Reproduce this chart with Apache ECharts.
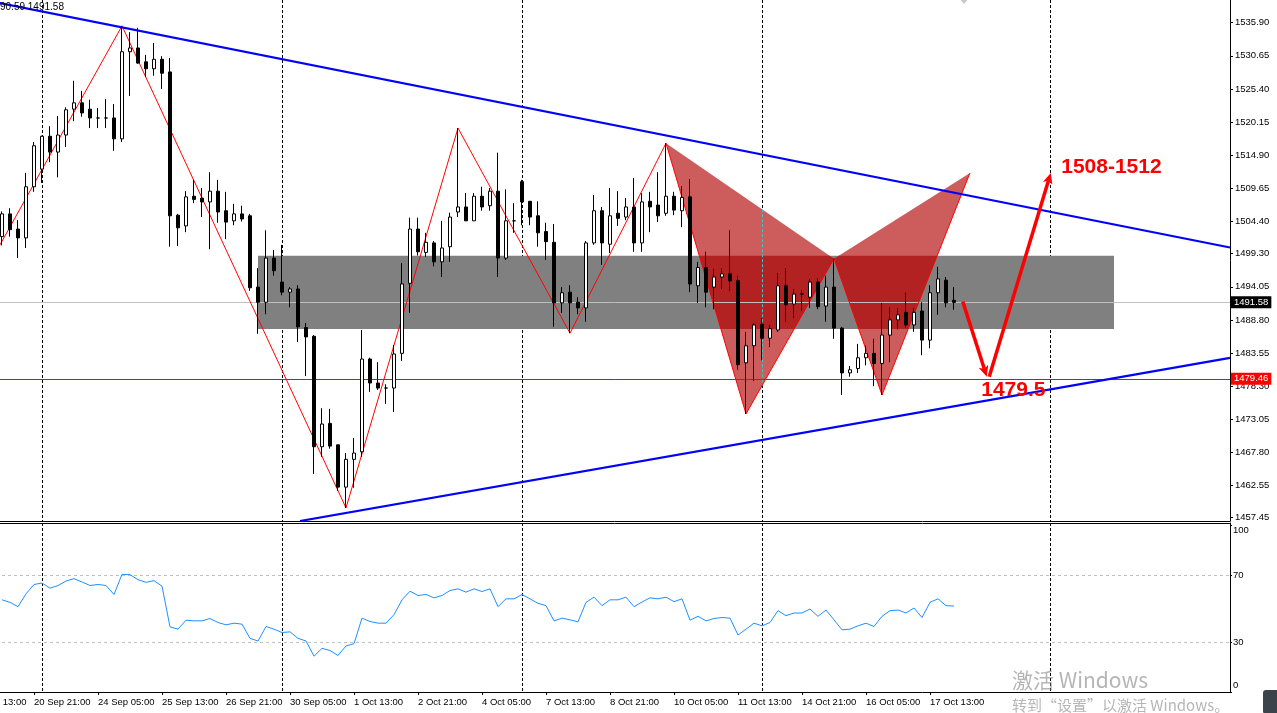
<!DOCTYPE html>
<html>
<head>
<meta charset="utf-8">
<title>XAUUSD H4</title>
<script src="https://cdn.jsdelivr.net/npm/echarts@6/dist/echarts.min.js"></script>
<style>
html,body{margin:0;padding:0;background:#ffffff;overflow:hidden;}
#chart{width:1277px;height:713px;}
</style>
</head>
<body>
<div id="chart"></div>
<script>
// ================= DATA =================
// candles: [open, high, low, close], H4 bars from 20 Sep 05:00
const candles = [
[1502.0,1506.0,1500.6,1505.6],[1505.6,1506.5,1502.0,1503.1],[1503.2,1504.6,1498.6,1501.8],[1501.8,1512.1,1500.2,1509.9],
[1509.9,1517.0,1509.1,1516.4],[1512.7,1518.0,1510.5,1517.9],[1517.9,1519.5,1513.8,1515.4],[1515.4,1521.1,1511.4,1518.1],
[1518.1,1522.5,1516.2,1522.1],[1522.2,1526.7,1520.3,1523.2],[1523.2,1525.1,1521.0,1521.6],[1522.2,1523.7,1519.2,1520.8],
[1520.8,1522.4,1519.2,1520.8],[1520.8,1523.8,1519.2,1520.8],[1520.8,1523.0,1515.6,1517.5],[1517.5,1535.4,1517.0,1531.3],
[1531.3,1534.4,1524.3,1531.9],[1531.9,1535.1,1529.4,1529.5],[1529.7,1530.8,1527.3,1528.6],[1528.6,1532.7,1527.5,1530.1],
[1530.1,1530.6,1525.4,1527.9],[1528.1,1530.3,1500.4,1505.3],[1505.4,1505.6,1500.5,1503.4],[1503.7,1509.2,1502.7,1508.3],
[1508.4,1511.0,1507.3,1507.9],[1508.1,1509.7,1505.1,1507.5],[1507.5,1512.2,1500.0,1509.2],[1509.2,1511.0,1504.2,1505.9],
[1506.1,1509.1,1501.6,1504.3],[1504.5,1507.2,1503.8,1505.6],[1505.6,1506.9,1504.4,1504.8],[1505.3,1505.6,1493.4,1493.9],
[1494.0,1497.0,1486.6,1491.6],[1491.6,1503.0,1489.7,1498.6],[1498.6,1499.9,1495.8,1496.6],[1494.8,1500.7,1492.7,1493.2],
[1493.2,1494.0,1490.8,1493.7],[1493.7,1494.3,1485.3,1487.7],[1487.6,1488.3,1479.9,1486.1],[1486.2,1486.4,1464.4,1468.7],
[1468.7,1474.8,1467.1,1472.3],[1472.4,1474.7,1468.4,1468.8],[1469.0,1469.0,1461.7,1462.3],[1462.3,1467.7,1459.0,1466.7],
[1466.7,1470.1,1462.2,1467.7],[1467.9,1487.2,1467.1,1482.6],[1482.6,1482.8,1477.4,1478.8],[1478.8,1482.1,1477.7,1478.0],
[1478.0,1478.6,1475.5,1478.0],[1478.0,1484.8,1474.2,1483.4],[1483.5,1497.8,1482.3,1494.5],[1494.6,1505.0,1489.9,1503.2],
[1503.2,1505.0,1499.0,1499.6],[1499.5,1502.6,1498.8,1501.1],[1501.0,1501.3,1497.3,1498.0],[1498.0,1504.5,1495.6,1500.2],
[1500.4,1505.8,1498.0,1505.1],[1505.9,1519.2,1505.1,1506.7],[1506.7,1508.9,1504.5,1504.5],[1504.5,1508.9,1504.5,1508.4],
[1508.4,1509.9,1506.1,1506.7],[1506.9,1509.7,1506.1,1509.2],[1509.2,1515.3,1495.6,1498.6],[1498.6,1509.5,1498.3,1504.5],
[1504.5,1507.3,1502.6,1504.5],[1510.7,1511.0,1503.8,1507.5],[1507.6,1507.6,1503.8,1505.1],[1505.3,1507.6,1500.4,1502.6],
[1502.8,1504.2,1498.3,1501.2],[1501.1,1504.0,1487.7,1491.5],[1491.5,1494.0,1489.9,1493.1],[1493.2,1494.3,1486.7,1491.5],
[1491.6,1492.4,1489.7,1490.7],[1490.7,1501.3,1488.5,1501.0],[1501.0,1508.6,1500.7,1506.1],[1506.1,1506.7,1497.5,1501.0],
[1500.8,1509.7,1499.4,1505.3],[1505.7,1509.2,1503.7,1504.9],[1505.1,1508.1,1504.6,1506.7],[1506.7,1511.3,1499.6,1501.0],
[1501.0,1508.9,1499.6,1507.5],[1507.6,1509.1,1502.7,1506.7],[1507.0,1512.2,1504.3,1505.3],[1505.7,1516.8,1505.3,1508.4],
[1508.4,1509.1,1505.4,1506.2],[1506.1,1510.0,1503.5,1508.2],[1508.3,1511.1,1493.2,1494.5],[1494.2,1498.0,1491.5,1497.1],
[1497.1,1499.6,1490.8,1493.2],[1494.0,1496.9,1490.5,1495.6],[1495.6,1497.0,1493.7,1496.1],[1496.1,1503.0,1493.4,1495.0],
[1495.0,1495.8,1480.9,1481.7],[1482.0,1486.9,1473.9,1484.7],[1484.7,1488.3,1479.1,1488.0],[1488.1,1489.1,1482.4,1485.9],
[1485.9,1488.0,1484.5,1487.4],[1487.2,1496.2,1486.9,1494.2],[1494.2,1497.0,1488.5,1491.2],[1491.3,1493.7,1489.1,1492.9],
[1492.9,1493.5,1490.2,1492.9],[1492.4,1495.3,1490.7,1494.8],[1494.8,1495.4,1490.5,1490.9],[1491.0,1495.8,1488.5,1494.0],
[1494.0,1498.5,1485.8,1487.5],[1487.5,1487.7,1476.9,1480.4],[1480.4,1481.5,1479.8,1480.9],[1481.1,1485.0,1480.4,1482.8],
[1482.8,1484.7,1481.6,1483.5],[1483.5,1485.8,1478.3,1481.9],[1481.9,1491.5,1476.9,1486.4],[1486.4,1490.8,1482.1,1488.8],
[1488.8,1490.7,1487.3,1489.6],[1490.0,1493.1,1487.5,1488.0],[1488.0,1490.7,1486.9,1490.0],[1490.2,1491.6,1483.2,1485.6],
[1485.6,1494.3,1484.3,1493.1],[1493.1,1497.2,1489.6,1495.3],[1495.1,1495.6,1490.8,1491.5],[1491.9,1494.0,1490.4,1491.58]
];
const rsiValues = [
55.3,53.8,51.2,58.9,64.5,65.4,62.3,63.9,66.6,68.0,
66.0,63.9,64.5,63.9,58.5,70.6,70.4,67.4,65.8,66.8,
63.5,39.1,37.7,43.1,42.7,42.7,44.1,41.7,40.3,41.3,
40.7,32.2,30.6,39.3,37.7,35.7,36.1,32.2,30.6,21.5,
26.2,24.9,21.9,27.6,29.0,44.3,42.3,41.3,41.3,46.4,
55.3,60.5,57.9,58.5,56.5,57.9,60.9,61.9,59.9,61.9,
60.3,61.9,51.2,55.9,55.9,58.5,55.9,53.2,51.8,42.7,
44.3,43.3,42.1,53.8,56.9,51.8,55.3,55.3,56.9,51.2,
54.0,56.5,55.9,56.9,54.2,55.9,43.1,45.4,42.7,44.1,
44.7,44.3,34.2,37.7,41.3,39.7,41.7,48.8,45.8,47.4,
47.4,49.8,45.4,49.2,43.3,37.3,37.7,39.7,41.3,39.3,
45.4,48.8,49.2,47.4,50.4,44.7,53.8,55.9,51.8,51.6
];
const timeLabels = ['19 Sep 13:00','20 Sep 21:00','24 Sep 05:00','25 Sep 13:00','26 Sep 21:00','30 Sep 05:00',
  '1 Oct 13:00','2 Oct 21:00','4 Oct 05:00','7 Oct 13:00','8 Oct 21:00','10 Oct 05:00','11 Oct 13:00',
  '14 Oct 21:00','16 Oct 05:00','17 Oct 13:00'];
const priceTicks = [1457.45,1462.55,1467.80,1473.05,1478.30,1483.55,1488.80,1494.05,1499.30,1504.40,
  1509.65,1514.90,1520.15,1525.40,1530.65,1535.90];
const rsiTicks = [0,30,70,100];
const rsiLevels = [70,30];
const weekSeparators = [5,35,65,95,131];                 // bar index
const upperTrend = [[-0.5,1539.07],[153.5,1500.27]];     // [bar, price]
const lowerTrend = [[37.25,1456.93],[153.5,1482.78]];
const zigzag = [[-0.25,1500.7],[15,1535.4],[43,1459.0],[57,1519.2],[71,1486.7],[83,1516.8],
  [93,1473.9],[104,1498.5],[110,1476.9],[121,1512.1]];
const butterfly = [[83,1516.8],[93,1473.9],[104,1498.5],[110,1476.9],[121,1512.1]]; // X A B C D
const zone = [[32,1498.98],[139,1487.36]];
const arrows = [[120.1,1491.7,123.1,1479.8],[123.4,1479.8,131.1,1512.1]];
const targetTexts = ['1508-1512','1479.5'];
const targetAnchors = [[132.4,1513.0],[122.4,1477.7]];
const topMarker = [[119.75,1539.6],[120.75,1539.6],[120.25,1538.85]];
const bidPrice = 1491.58;
const levelPrice = 1479.46;
const headerText = '90.59 1491.58';

// ================= LAYOUT / STYLE =================
const FONT = '"Liberation Sans", Arial, sans-serif';
const BARS_BEFORE = 4;
const SLOT_COUNT = 158;
const xMin = -BARS_BEFORE - 0.5, xMax = SLOT_COUNT - BARS_BEFORE - 0.5;
const priceMin = 1456.93, priceMax = 1539.5;
const rsiMin = 0, rsiMax = 101.4;
const labelEvery = 8;
const categories = Array.from({length: SLOT_COUNT}, (_, k) => String(k - BARS_BEFORE));
const showLabel = (k) => k % labelEvery === 0 && (k / labelEvery) < timeLabels.length;

const candleData = candles.map((d, i) => [i + BARS_BEFORE, d[0], d[3], d[2], d[1]]);
const rsiData = rsiValues.map((v, i) => [i + BARS_BEFORE, v]);
const triangles = [[butterfly[0], butterfly[1], butterfly[2]], [butterfly[2], butterfly[3], butterfly[4]]];

function clipToRect(poly, x0, y0, x1, y1) {
  const edges = [
    [p => p[0] >= x0, (a, b) => [x0, a[1] + (x0 - a[0]) / (b[0] - a[0]) * (b[1] - a[1])]],
    [p => p[0] <= x1, (a, b) => [x1, a[1] + (x1 - a[0]) / (b[0] - a[0]) * (b[1] - a[1])]],
    [p => p[1] >= y0, (a, b) => [a[0] + (y0 - a[1]) / (b[1] - a[1]) * (b[0] - a[0]), y0]],
    [p => p[1] <= y1, (a, b) => [a[0] + (y1 - a[1]) / (b[1] - a[1]) * (b[0] - a[0]), y1]]
  ];
  let out = poly;
  for (const [inside, inter] of edges) {
    const inp = out; out = [];
    for (let i = 0; i < inp.length; i++) {
      const cur = inp[i], prev = inp[(i + inp.length - 1) % inp.length];
      if (inside(cur)) { if (!inside(prev)) out.push(inter(prev, cur)); out.push(cur); }
      else if (inside(prev)) out.push(inter(prev, cur));
    }
    if (!out.length) break;
  }
  return out;
}

function weekLineRenderer(params, api) {
  const x = Math.round(api.coord([api.value(0), api.value(1)])[0]) + 0.5;
  const cs = params.coordSys;
  return {type: 'line', shape: {x1: x, y1: cs.y, x2: x, y2: cs.y + cs.height},
    style: {stroke: '#000000', lineWidth: 1, lineDash: [3, 2]}};
}

const chart = echarts.init(document.getElementById('chart'), null, {renderer: 'canvas'});
const option = {
  animation: false,
  backgroundColor: '#ffffff',
  textStyle: {fontFamily: FONT},
  grid: [
    {left: -34, top: 0, width: 1264, height: 521, outerBoundsMode: 'none', containLabel: false},
    {left: -34, top: 523, width: 1264, height: 169, outerBoundsMode: 'none', containLabel: false}
  ],
  xAxis: [
    {type: 'category', gridIndex: 0, data: categories, boundaryGap: true, position: 'bottom',
      axisLine: {show: true, onZero: false, lineStyle: {color: '#000', width: 1}},
      axisTick: {show: false}, axisLabel: {show: false}, splitLine: {show: false}},
    {type: 'value', gridIndex: 0, min: xMin, max: xMax, show: false},
    {type: 'category', gridIndex: 1, data: categories, boundaryGap: true, position: 'bottom',
      axisLine: {show: true, onZero: false, lineStyle: {color: '#000', width: 1}},
      axisTick: {show: true, interval: (k) => showLabel(k), alignWithLabel: true, length: 3, lineStyle: {color: '#000'}},
      axisLabel: {show: true, interval: (k) => showLabel(k), formatter: (v, k) => timeLabels[k / labelEvery] || '',
        align: 'left', color: '#000', fontSize: 9.5, fontFamily: FONT, margin: 5, hideOverlap: false},
      splitLine: {show: false}},
    {type: 'value', gridIndex: 1, min: xMin, max: xMax, position: 'top',
      axisLine: {show: true, onZero: false, lineStyle: {color: '#000', width: 1}},
      axisTick: {show: false}, axisLabel: {show: false}, splitLine: {show: false}}
  ],
  yAxis: [
    {type: 'value', gridIndex: 0, position: 'right', min: priceMin, max: priceMax,
      axisLine: {show: true, onZero: false, lineStyle: {color: '#000', width: 1}},
      axisTick: {show: true, length: 3, customValues: priceTicks, lineStyle: {color: '#000'}},
      axisLabel: {show: true, customValues: priceTicks, formatter: (v) => v.toFixed(2), color: '#000',
        fontSize: 9.5, fontFamily: FONT, margin: 5},
      splitLine: {show: false}},
    {type: 'value', gridIndex: 1, position: 'right', min: rsiMin, max: rsiMax,
      axisLine: {show: true, onZero: false, lineStyle: {color: '#000', width: 1}},
      axisTick: {show: true, length: 2, customValues: rsiTicks, lineStyle: {color: '#000'}},
      axisLabel: {show: true, customValues: rsiTicks, color: '#000', fontSize: 9.5, fontFamily: FONT, margin: 3,
        formatter: (v) => v === 100 ? '{t|100}' : (v === 0 ? '{b|0}' : String(v)),
        rich: {t: {fontSize: 9.5, fontFamily: FONT, color: '#000', padding: [10, 0, 0, 0]},
               b: {fontSize: 9.5, fontFamily: FONT, color: '#000', padding: [0, 0, 14, 0]}}},
      splitLine: {show: false}}
  ],
  series: [
    {type: 'custom', xAxisIndex: 1, yAxisIndex: 0, z: 1, silent: true,
      data: weekSeparators.map(w => [w, priceMin]), renderItem: weekLineRenderer},
    {type: 'custom', xAxisIndex: 3, yAxisIndex: 1, z: 1, silent: true,
      data: weekSeparators.map(w => [w, 0]), renderItem: weekLineRenderer},
    {type: 'custom', xAxisIndex: 1, yAxisIndex: 0, z: 2, silent: true, clip: true,
      data: [[zone[0][0], zone[0][1], zone[1][0], zone[1][1]]],
      renderItem: (p, api) => {
        const a = api.coord([api.value(0), api.value(1)]), b = api.coord([api.value(2), api.value(3)]);
        return {type: 'rect', shape: {x: Math.min(a[0], b[0]), y: Math.min(a[1], b[1]),
          width: Math.abs(b[0] - a[0]), height: Math.abs(b[1] - a[1])}, style: {fill: '#808080'}};
      }},
    {type: 'custom', xAxisIndex: 1, yAxisIndex: 0, z: 3, silent: true,
      data: triangles.map(t => [t[0][0], t[0][1]]),
      renderItem: (p, api) => {
        const pts = triangles[p.dataIndex].map(q => api.coord(q));
        const a = api.coord(zone[0]), b = api.coord(zone[1]);
        const inner = clipToRect(pts, Math.min(a[0], b[0]), Math.min(a[1], b[1]), Math.max(a[0], b[0]), Math.max(a[1], b[1]));
        const children = [{type: 'polygon', shape: {points: pts}, style: {fill: '#cd5c5c'}}];
        if (inner.length >= 3) children.push({type: 'polygon', shape: {points: inner}, style: {fill: '#b22222'}});
        return {type: 'group', children};
      }},
    {type: 'custom', xAxisIndex: 1, yAxisIndex: 0, z: 4, silent: true,
      data: weekSeparators.map(w => [w, priceMin]),
      renderItem: (p, api) => {
        const xv = api.value(0); const ys = [];
        triangles.forEach(t => { for (let i = 0; i < 3; i++) { const a = t[i], b = t[(i + 1) % 3];
          if (a[0] !== b[0] && (xv - a[0]) * (xv - b[0]) <= 0) ys.push(a[1] + (xv - a[0]) / (b[0] - a[0]) * (b[1] - a[1])); } });
        if (ys.length < 2) return {type: 'group', children: []};
        const top = api.coord([xv, Math.max(...ys)]), bot = api.coord([xv, Math.min(...ys)]);
        const x = Math.round(top[0]) + 0.5;
        return {type: 'line', shape: {x1: x, y1: top[1], x2: x, y2: bot[1]}, style: {stroke: '#3cc8c8', lineWidth: 1, lineDash: [3, 2]}};
      }},
    {type: 'line', xAxisIndex: 1, yAxisIndex: 0, z: 5, silent: true, symbol: 'none', data: zigzag,
      lineStyle: {color: '#ff0000', width: 1}, clip: true,
      markLine: {silent: true, symbol: ['none', 'none'], animation: false,
        data: [
          {yAxis: bidPrice, lineStyle: {color: '#c0c0c0', width: 1, type: 'solid'},
            label: {show: true, position: 'end', distance: 1, formatter: () => bidPrice.toFixed(2), color: '#ffffff',
              backgroundColor: '#000000', padding: [1, 3, 1, 3], fontSize: 9.5, fontFamily: FONT}},
          {yAxis: levelPrice, lineStyle: {color: '#ff0000', width: 1, type: 'solid'},
            label: {show: true, position: 'end', distance: 1, formatter: () => levelPrice.toFixed(2), color: '#ffffff',
              backgroundColor: '#ff0000', padding: [1, 3, 1, 3], fontSize: 9.5, fontFamily: FONT}}
        ]}},
    {type: 'candlestick', xAxisIndex: 0, yAxisIndex: 0, z: 6, silent: true, barWidth: 4,
      data: candleData, encode: {x: 0, y: [1, 2, 3, 4]},
      itemStyle: {color: '#ffffff', color0: '#000000', borderColor: '#000000', borderColor0: '#000000',
        borderColorDoji: '#000000', borderWidth: 1}},
    {type: 'line', xAxisIndex: 1, yAxisIndex: 0, z: 7, silent: true, symbol: 'none', data: upperTrend, clip: true,
      lineStyle: {color: '#0000ff', width: 2.2}},
    {type: 'line', xAxisIndex: 1, yAxisIndex: 0, z: 7, silent: true, symbol: 'none', data: lowerTrend, clip: true,
      lineStyle: {color: '#0000ff', width: 2.2}},
    {type: 'custom', xAxisIndex: 1, yAxisIndex: 0, z: 8, silent: true, data: arrows,
      renderItem: (p, api) => {
        const s = api.coord([api.value(0), api.value(1)]), e = api.coord([api.value(2), api.value(3)]);
        const dx = e[0] - s[0], dy = e[1] - s[1], len = Math.hypot(dx, dy), ux = dx / len, uy = dy / len;
        const hl = 11, hw = 5;
        const bx = e[0] - ux * hl, by = e[1] - uy * hl;
        return {type: 'group', children: [
          {type: 'line', shape: {x1: s[0], y1: s[1], x2: bx + ux * 3, y2: by + uy * 3}, style: {stroke: '#ff0000', lineWidth: 3.5}},
          {type: 'polygon', shape: {points: [[e[0], e[1]], [bx - uy * hw, by + ux * hw], [bx + ux * 3, by + uy * 3], [bx + uy * hw, by - ux * hw]]},
            style: {fill: '#ff0000'}}
        ]};
      }},
    {type: 'custom', xAxisIndex: 1, yAxisIndex: 0, z: 9, silent: true, data: targetAnchors,
      renderItem: (p, api) => {
        const c = api.coord([api.value(0), api.value(1)]);
        return {type: 'text', x: c[0], y: c[1], style: {text: targetTexts[p.dataIndex], fill: '#ff0000',
          font: 'bold 21px "Liberation Sans", Arial, sans-serif', align: 'left', verticalAlign: 'middle'}};
      }},
    {type: 'custom', xAxisIndex: 1, yAxisIndex: 0, z: 9, silent: true, data: [topMarker[2]],
      renderItem: (p, api) => ({type: 'polygon', shape: {points: topMarker.map(q => api.coord(q))}, style: {fill: '#c8c8c8'}})},
    {type: 'line', xAxisIndex: 2, yAxisIndex: 1, z: 5, silent: true, symbol: 'none', data: rsiData,
      lineStyle: {color: '#1e90ff', width: 1},
      markLine: {silent: true, symbol: ['none', 'none'], animation: false, label: {show: false},
        lineStyle: {color: '#c0c0c0', width: 1, type: [3, 3]},
        data: rsiLevels.map(v => ({yAxis: v}))}}
  ],
  graphic: [
    {type: 'text', left: 0, top: 2, z: 100, style: {text: headerText, fill: '#000', font: '10px "Liberation Sans", Arial, sans-serif'}},
    {type: 'text', left: 1012, top: 670, z: 100, style: {text: '激活 Windows', fill: 'rgba(120,120,120,0.55)', font: '21px "Noto Sans CJK SC", sans-serif'}},
    {type: 'text', left: 1012, top: 698, z: 100, style: {text: '转到“设置”以激活 Windows。', fill: 'rgba(120,120,120,0.55)', font: '15px "Noto Sans CJK SC", sans-serif'}},
    {type: 'rect', left: 1263, top: 690, z: 100, shape: {width: 16, height: 24, r: 3}, style: {fill: '#3d434b'}}
  ]
};
chart.setOption(option);
</script>
</body>
</html>
